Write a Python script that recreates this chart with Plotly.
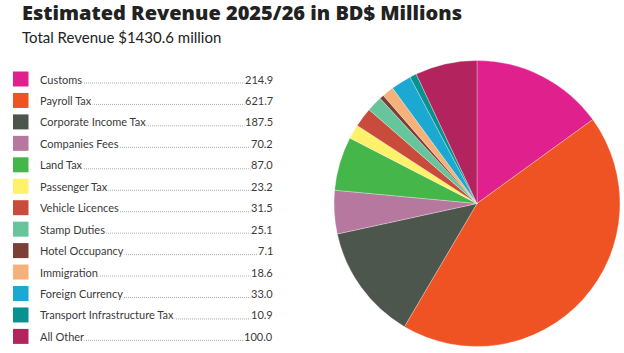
import plotly.graph_objects as go

W, H = 624, 353

categories = ["Customs", "Payroll Tax", "Corporate Income Tax", "Companies Fees", "Land Tax",
              "Passenger Tax", "Vehicle Licences", "Stamp Duties", "Hotel Occupancy",
              "Immigration", "Foreign Currency", "Transport Infrastructure Tax", "All Other"]
values = [214.9, 621.7, 187.5, 70.2, 87.0, 23.2, 31.5, 25.1, 7.1, 18.6, 33.0, 10.9, 100.0]
value_labels = ["214.9", "621.7", "187.5", "70.2", "87.0", "23.2", "31.5", "25.1", "7.1",
                "18.6", "33.0", "10.9", "100.0"]
colors = ["#E0208C", "#F05323", "#4C564C", "#B6789F", "#45B649", "#FFF16A", "#C94B3C",
          "#66C59B", "#7B3F36", "#F5B179", "#1BA8D1", "#07928F", "#B3245E"]

FONT = "Lato"

def px(x):
    return x / W

def py(y):
    return 1 - y / H

fig = go.Figure()
cx, cy, r = 477, 203.5, 143
fig.add_trace(go.Pie(
    labels=categories, values=values, sort=False, direction="clockwise", rotation=0,
    marker=dict(colors=colors, line=dict(color="rgba(255,255,255,0.6)", width=0.5)),
    textinfo="none", hoverinfo="label+value", showlegend=False,
    domain=dict(x=[px(cx - r), px(cx + r)], y=[py(cy + r), py(cy - r)]),
))

shapes = []
annotations = []
y0, dy = 79, 21.45
for i, (cat, val, col) in enumerate(zip(categories, value_labels, colors)):
    yc = y0 + i * dy
    shapes.append(dict(type="rect", xref="paper", yref="paper",
                       x0=px(13), x1=px(28.5), y0=py(yc - 7.5), y1=py(yc + 7.5),
                       fillcolor=col, line=dict(width=0)))
    shapes.append(dict(type="line", xref="paper", yref="paper",
                       x0=px(42), x1=px(270), y0=py(yc + 4), y1=py(yc + 4),
                       line=dict(color="#888888", width=0.7, dash="1px,1px")))
    annotations.append(dict(text=cat, xref="paper", yref="paper", x=px(38.5), y=py(yc),
                            xanchor="left", yanchor="middle", showarrow=False,
                            bgcolor="white", borderpad=0,
                            font=dict(family=FONT, size=11, color="#3a3a3a")))
    annotations.append(dict(text=val, xref="paper", yref="paper", x=px(274), y=py(yc),
                            xanchor="right", yanchor="middle", showarrow=False,
                            bgcolor="white", borderpad=0,
                            font=dict(family=FONT, size=11, color="#3a3a3a")))

annotations.append(dict(text="Estimated Revenue 2025/26 in BD$ Millions", xref="paper", yref="paper",
                        x=px(20), y=py(13), xanchor="left", yanchor="middle", showarrow=False,
                        font=dict(family="Open Sans", size=20, weight=800, color="#222222")))
annotations.append(dict(text="Total Revenue $1430.6 million", xref="paper", yref="paper",
                        x=px(20), y=py(37), xanchor="left", yanchor="middle", showarrow=False,
                        font=dict(family=FONT, size=15, color="#222222")))

fig.update_layout(width=W, height=H, margin=dict(l=0, r=0, t=0, b=0),
                  paper_bgcolor="white", plot_bgcolor="white",
                  shapes=shapes, annotations=annotations)

fig.write_html("out.html", config={"displayModeBar": False})
